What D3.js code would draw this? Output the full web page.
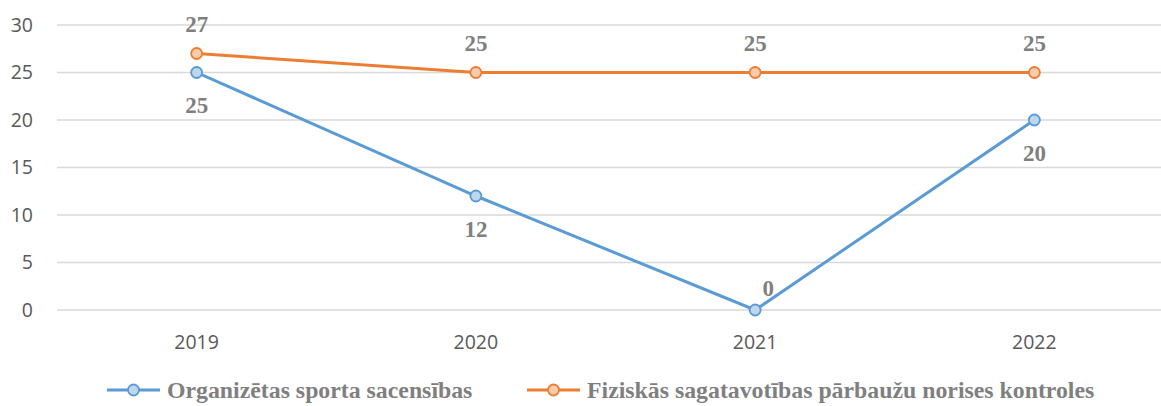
<!DOCTYPE html>
<html>
<head>
<meta charset="utf-8">
<script src="https://cdnjs.cloudflare.com/ajax/libs/d3/7.8.5/d3.min.js"></script>
<style>
  body { margin: 0; background: #fff; }
  svg { display: block; }
</style>
</head>
<body>
<div id="chart"></div>
<script>
var years = ["2019", "2020", "2021", "2022"];
var sportsEvents = [25, 12, 0, 20];
var fitnessChecks = [27, 25, 25, 25];
var yTicks = [0, 5, 10, 15, 20, 25, 30];
var seriesNames = ["Organizētas sporta sacensības", "Fiziskās sagatavotības pārbaužu norises kontroles"];

var width = 1161, height = 406;
var svg = d3.select("#chart").append("svg").attr("width", width).attr("height", height);

var x = d3.scaleBand().domain(years).range([57, 1174]);
var y = d3.scaleLinear().domain([0, 30]).range([310, 25]);

// gridlines
svg.append("g").selectAll("line").data(yTicks).enter().append("line")
    .attr("x1", 57).attr("x2", width)
    .attr("y1", function (d) { return y(d); })
    .attr("y2", function (d) { return y(d); })
    .attr("stroke", "#d9d9d9").attr("stroke-width", 1.3);

// y labels
svg.append("g").selectAll("text").data(yTicks).enter().append("text")
    .attr("x", 33).attr("y", function (d) { return y(d); })
    .attr("dy", "0.35em").attr("text-anchor", "end")
    .attr("font-family", "Open Sans, sans-serif").attr("font-size", 19.5)
    .attr("fill", "#595959")
    .text(function (d) { return d; });

// x labels
svg.append("g").selectAll("text").data(years).enter().append("text")
    .attr("x", function (d) { return x(d) + x.bandwidth() / 2; })
    .attr("y", 349).attr("text-anchor", "middle")
    .attr("font-family", "Open Sans, sans-serif").attr("font-size", 19.5)
    .attr("fill", "#595959")
    .text(function (d) { return d; });

var series = [
    { name: seriesNames[0], values: sportsEvents, stroke: "#5b9bd5", fill: "#bdd7ee", below: true },
    { name: seriesNames[1], values: fitnessChecks, stroke: "#ed7d31", fill: "#f8cbad", below: false }
];

var cx = function (i) { return x(years[i]) + x.bandwidth() / 2; };
var line = d3.line().x(function (d, i) { return cx(i); }).y(function (d) { return y(d); });

series.forEach(function (s) {
    var g = svg.append("g");
    g.append("path").datum(s.values).attr("d", line)
        .attr("fill", "none").attr("stroke", s.stroke).attr("stroke-width", 3);
    g.selectAll("circle").data(s.values).enter().append("circle")
        .attr("cx", function (d, i) { return cx(i); })
        .attr("cy", function (d) { return y(d); })
        .attr("r", 5.5).attr("fill", s.fill)
        .attr("stroke", s.stroke).attr("stroke-width", 1.8);
    g.selectAll("text").data(s.values).enter().append("text")
        .attr("x", function (d, i) {
            // the zero label sits up and to the right of its point
            return cx(i) + (s.below && d === 0 ? 13 : 0);
        })
        .attr("y", function (d) {
            if (s.below && d === 0) return y(d) - 14;
            return y(d) + (s.below ? 40.5 : -22);
        })
        .attr("text-anchor", "middle")
        .attr("font-family", "Liberation Serif, Times New Roman, serif")
        .attr("font-weight", "bold").attr("font-size", 23)
        .attr("fill", "#7f7f7f")
        .text(function (d) { return d; });
});

// legend
var legendX = [107, 527];
series.forEach(function (s, i) {
    var lg = svg.append("g").attr("transform", "translate(" + legendX[i] + ",390)");
    lg.append("line").attr("x1", 0).attr("x2", 53).attr("y1", 0).attr("y2", 0)
        .attr("stroke", s.stroke).attr("stroke-width", 3);
    lg.append("circle").attr("cx", 26.5).attr("cy", 0).attr("r", 5.5)
        .attr("fill", s.fill).attr("stroke", s.stroke).attr("stroke-width", 1.8);
    lg.append("text").attr("x", 60).attr("y", 0).attr("dy", "0.35em")
        .attr("font-family", "Liberation Serif, Times New Roman, serif")
        .attr("font-weight", "bold").attr("font-size", 23.8)
        .attr("fill", "#7f7f7f")
        .text(s.name);
});
</script>
</body>
</html>
